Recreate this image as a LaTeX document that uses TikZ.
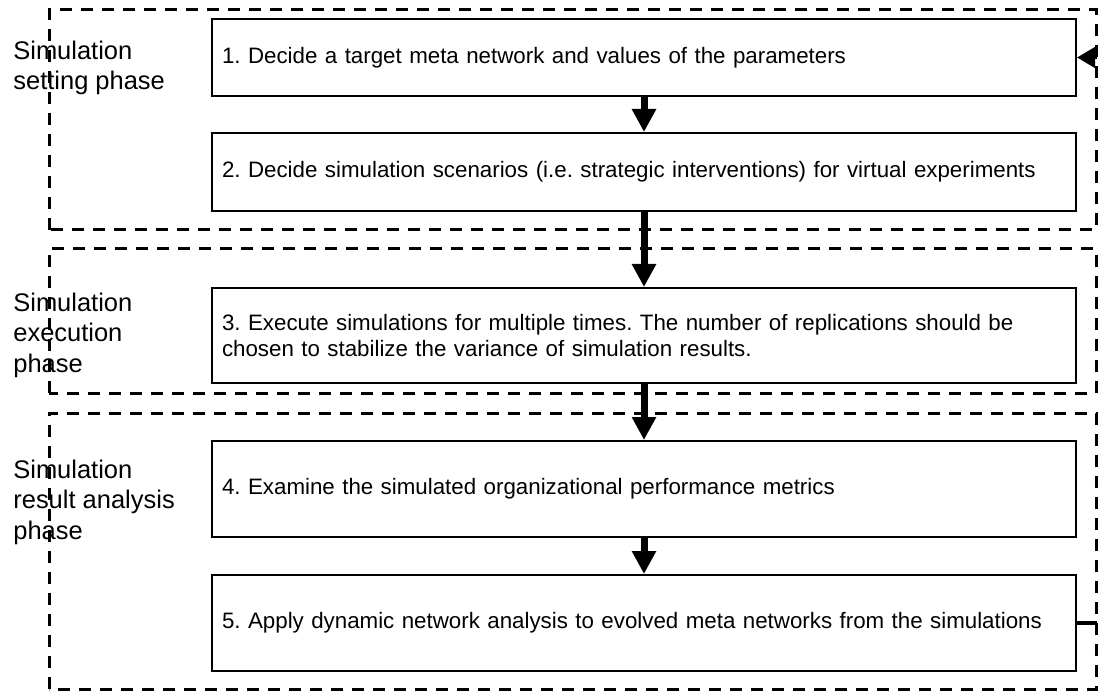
\documentclass[tikz,border=0pt]{standalone}
\usepackage{fontspec}
\setmainfont{Liberation Sans}
\usetikzlibrary{arrows.meta,calc}
\frenchspacing

\begin{document}
\begin{tikzpicture}[
  stepbox/.style={draw, line width=0.04cm, text width=16.88cm, align=left, inner xsep=0.2cm, inner ysep=0pt, font=\fontsize{12.7}{14.6}\selectfont},
  phase/.style={draw, line width=0.06cm, dash pattern=on 0.24cm off 0.18cm},
  phaselbl/.style={anchor=base west, align=left, inner sep=0pt, font=\fontsize{14.5}{17.1}\selectfont},
  flow/.style={-{Triangle[length=0.46cm, width=0.46cm]}, line width=0.14cm},
  loopback/.style={line width=0.08cm}
]
\useasboundingbox (0,0) rectangle (22,13.82);

% ---------- Phasen ----------
\draw[phase] (0.98,9.22) rectangle (21.92,13.62);
\draw[phase] (0.98,5.96) rectangle (21.92,8.84);
\draw[phase] (0.98,0.04) rectangle (21.92,5.56);

% anchor base = Grundlinie der letzten Zeile
\node[phaselbl] (p1) at (0.26,12.02) {Simulation\\setting phase};
\node[phaselbl] (p2) at (0.26,6.38) {Simulation\\execution\\phase};
\node[phaselbl] (p3) at (0.26,3.04) {Simulation\\result analysis\\phase};

% ---------- Schritte ----------
\node[stepbox, minimum height=1.54cm] (s1) at (12.88,12.67)
  {1. Decide a target meta network and values of the parameters};
\node[stepbox, minimum height=1.56cm] (s2) at (12.88,10.38)
  {2. Decide simulation scenarios (i.e. strategic interventions) for virtual experiments};
\node[stepbox, minimum height=1.9cm] (s3) at (12.88,7.11)
  {3. Execute simulations for multiple times. The number of replications should be\\chosen to stabilize the variance of simulation results.};
\node[stepbox, minimum height=1.92cm] (s4) at (12.88,4.04)
  {4. Examine the simulated organizational performance metrics};
\node[stepbox, minimum height=1.92cm] (s5) at (12.88,1.36)
  {5. Apply dynamic network analysis to evolved meta networks from the simulations};

% ---------- Pfeile ----------
\draw[flow] (s1) -- (s2);
\draw[flow] (s2) -- (s3);
\draw[flow] (s3) -- (s4);
\draw[flow] (s4) -- (s5);

% Rueckfuehrung 5 -> 1
\coordinate (r5) at ($(s5.east)+(0.4,0)$);
\coordinate (r1) at (s1.east -| r5);
\draw[loopback] (s5.east) -- (r5);
\draw[loopback, -{Triangle[length=0.36cm, width=0.4cm]}] (r1) -- (s1.east);

\end{tikzpicture}
\end{document}
